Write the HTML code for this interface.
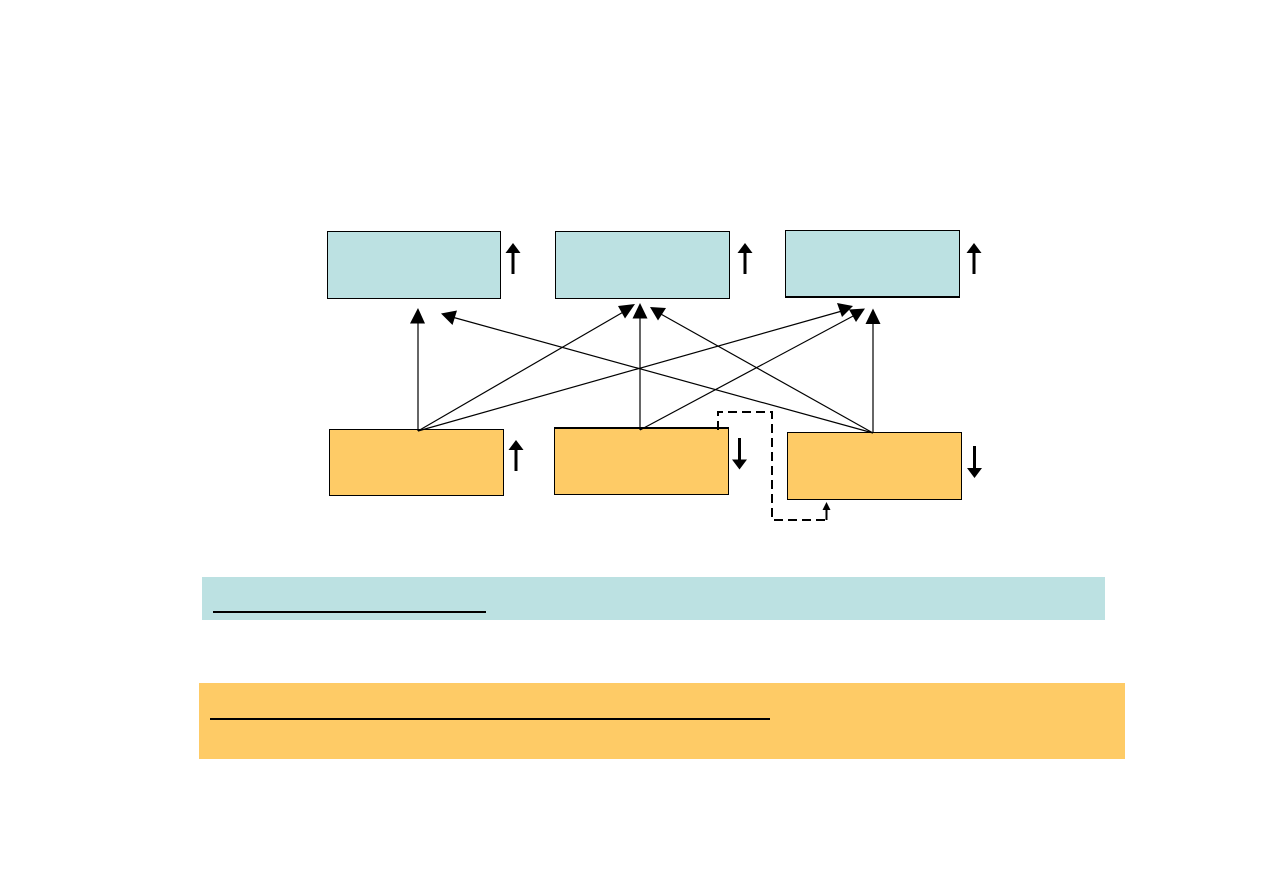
<!DOCTYPE html>
<html>
<head>
<meta charset="utf-8">
<title>Diagram</title>
<style>
html,body{margin:0;padding:0;background:#fff;width:1263px;height:893px;overflow:hidden}
svg{display:block}
</style>
</head>
<body>
<svg width="1263" height="893" viewBox="0 0 1263 893" xmlns="http://www.w3.org/2000/svg">
<rect x="0" y="0" width="1263" height="893" fill="#fff"/>
<!-- top boxes -->
<g fill="#BCE1E2" stroke="#000" stroke-width="1">
<rect x="327.5" y="231.5" width="173" height="67"/>
<rect x="555.5" y="231.5" width="174" height="67"/>
<rect x="785.5" y="230.5" width="174" height="66"/>
</g>
<rect x="785" y="296" width="175" height="2" fill="#000"/>
<!-- bottom boxes -->
<g fill="#FECB66" stroke="#000" stroke-width="1">
<rect x="329.5" y="429.5" width="174" height="66"/>
<rect x="554.5" y="428" width="174" height="66.5"/>
<rect x="787.5" y="432.5" width="174" height="67"/>
</g>
<rect x="554" y="427" width="175" height="2" fill="#000"/>
<!-- thin connectors -->
<g stroke="#000" stroke-width="1.2" fill="none">
<line x1="418" y1="431" x2="418" y2="320"/>
<line x1="418" y1="431" x2="625" y2="311"/>
<line x1="418" y1="431" x2="842" y2="311"/>
<line x1="640" y1="430" x2="640" y2="316"/>
<line x1="640" y1="430" x2="855" y2="315"/>
<line x1="873" y1="433" x2="873" y2="320"/>
<line x1="873" y1="433" x2="659" y2="313"/>
<line x1="873" y1="433" x2="452" y2="317"/>
</g>
<!-- connector heads -->
<g fill="#000">
<polygon points="418,308 410,323.500 425,323.500"/>
<polygon points="635,304 618,306 625,318.500"/>
<polygon points="853,306 837,303 842,317"/>
<polygon points="640,303 632.500,318.500 647.500,318.500"/>
<polygon points="865,308.500 849,309.500 856,322"/>
<polygon points="873,308.500 865.500,324 880.500,324"/>
<polygon points="650,307 666,308 658,320.500"/>
<polygon points="441,313.500 457,310.500 452.500,325"/>
</g>
<!-- status arrows -->
<g stroke="#000" stroke-width="3" fill="none">
<line x1="513" y1="252" x2="513" y2="274"/>
<line x1="745" y1="252" x2="745" y2="274"/>
<line x1="974" y1="252" x2="974" y2="274"/>
<line x1="516" y1="449" x2="516" y2="471"/>
<line x1="739.500" y1="438" x2="739.500" y2="462"/>
<line x1="974.500" y1="446" x2="974.500" y2="470"/>
</g>
<g fill="#000">
<polygon points="513,243 505.500,253 520.500,253"/>
<polygon points="745,243 737.500,253 752.500,253"/>
<polygon points="974,243 966.500,253 981.500,253"/>
<polygon points="516,440 508.500,450 523.500,450"/>
<polygon points="739.500,469.500 732,459.500 747,459.500"/>
<polygon points="974.500,478 967,468 982,468"/>
</g>
<!-- dashed connector -->
<path d="M718 430 V412 H772 V520 H826.500 V508" fill="none" stroke="#000" stroke-width="2" stroke-dasharray="9 5"/>
<line x1="826.500" y1="508" x2="826.500" y2="520" stroke="#000" stroke-width="2"/>
<polygon points="826.500,502 822.500,510 830.500,510" fill="#000"/>
<!-- bands -->
<rect x="202" y="577" width="903" height="43" fill="#BCE1E2"/>
<rect x="213" y="611" width="273" height="2" fill="#000"/>
<rect x="199" y="683" width="926" height="76" fill="#FECB66"/>
<rect x="210" y="718" width="560" height="2" fill="#000"/>
</svg>
</body>
</html>
